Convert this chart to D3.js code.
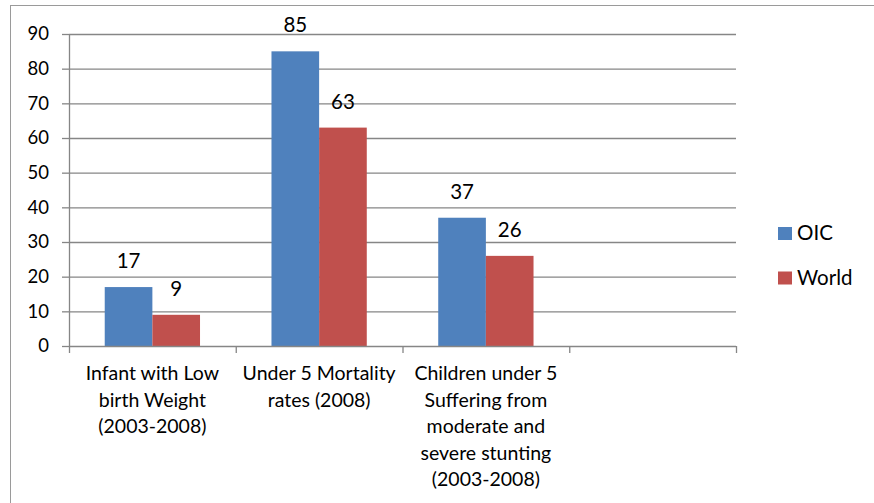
<!DOCTYPE html>
<html>
<head>
<meta charset="utf-8">
<script src="https://cdn.jsdelivr.net/npm/d3@7"></script>
<style>
  body { margin: 0; background: #fff; }
  text { font-family: Lato, "Liberation Sans", sans-serif; fill: #000; }
</style>
</head>
<body>
<script>
// chart values
const categories = ["Infant with Low birth Weight (2003-2008)",
                    "Under 5 Mortality rates (2008)",
                    "Children under 5 Suffering from moderate and severe stunting (2003-2008)",
                    ""];
const categoryLines = [["Infant with Low", "birth Weight", "(2003-2008)"],
                       ["Under 5 Mortality", "rates (2008)"],
                       ["Children under 5", "Suffering from", "moderate and", "severe stunting", "(2003-2008)"],
                       []];
const seriesNames = ["OIC", "World"];
const oicValues = [17, 85, 37];
const worldValues = [9, 63, 26];
const yTicks = [0, 10, 20, 30, 40, 50, 60, 70, 80, 90];
const colors = ["#4F81BD", "#C0504D"];

let margin = null,
    width = null,
    height = null;

let svg = null, root = null;
let x, y = null; // scales

setupCanvasSize();
appendSvg("body");
setupXScale();
setupYScale();
appendGrid();
appendChartBars();
appendYAxis();
appendXAxis();
appendLegend();

function setupCanvasSize() {
  margin = {top: 34, left: 69, bottom: 157, right: 138};
  width = 874 - margin.left - margin.right;
  height = 503 - margin.top - margin.bottom;
}

function appendSvg(domElement) {
  root = d3.select(domElement).append("svg")
    .attr("width", 874)
    .attr("height", 503);

  // chart frame (right and bottom edges run off the page)
  root.append("rect")
    .attr("x", 10.5).attr("y", 5.5)
    .attr("width", 900).attr("height", 540)
    .attr("fill", "none")
    .attr("stroke", "#9a9a9a");

  svg = root.append("g")
    .attr("transform", `translate(${margin.left}, ${margin.top})`);
}

function setupXScale() {
  x = d3.scaleBand().range([0, width]).domain(categories).padding(0);
}

function setupYScale() {
  y = d3.scaleLinear().range([height, 0]).domain([0, 90]);
}

function appendGrid() {
  svg.append("g")
    .call(d3.axisLeft(y).tickValues(yTicks.slice(1)).tickSize(-width).tickFormat(""))
    .call(g => g.select(".domain").remove())
    .selectAll("line")
    .attr("stroke", "#868686")
    .attr("stroke-width", 1.3);
}

function appendYAxis() {
  const g = svg.append("g")
    .call(d3.axisLeft(y).tickValues(yTicks).tickSize(7).tickPadding(13));
  g.select(".domain").attr("stroke", "#868686").attr("stroke-width", 1.3)
    .attr("d", `M0.5,${height}V0`);
  g.selectAll("line").attr("stroke", "#868686").attr("stroke-width", 1.3);
  g.selectAll("text")
    .style("font-family", "Lato, 'Liberation Sans', sans-serif")
    .style("font-size", "18.5px")
    .attr("fill", "#000");
}

function appendXAxis() {
  const g = svg.append("g").attr("transform", `translate(0,${height})`);

  g.append("line")
    .attr("x1", 0).attr("x2", width)
    .attr("y1", 0.5).attr("y2", 0.5)
    .attr("stroke", "#868686").attr("stroke-width", 1.3);

  // tick marks at band boundaries
  const bounds = categories.map(c => x(c)).concat([x(categories[categories.length - 1]) + x.bandwidth()]);
  g.selectAll(".btick").data(bounds).enter().append("line")
    .attr("x1", d => d + 0.5).attr("x2", d => d + 0.5)
    .attr("y1", 0).attr("y2", 7)
    .attr("stroke", "#868686").attr("stroke-width", 1.3);

  // multi-line category labels
  const labels = g.selectAll(".clabel").data(categories).enter().append("text")
    .attr("text-anchor", "middle")
    .style("font-size", "19.5px")
    .attr("transform", d => `translate(${x(d) + x.bandwidth() / 2},0)`);

  labels.selectAll("tspan")
    .data((d, i) => categoryLines[i])
    .enter().append("tspan")
    .attr("x", 0)
    .attr("y", (d, i) => 34 + i * 26.6)
    .text(d => d);
}

function appendChartBars() {
  const barW = x.bandwidth() / 3.5;
  const series = [oicValues, worldValues];

  series.forEach((vals, s) => {
    const g = svg.append("g");
    g.selectAll("rect")
      .data(vals)
      .enter().append("rect")
      .attr("x", (d, i) => x(categories[i]) + x.bandwidth() / 2 - barW + s * barW)
      .attr("y", d => y(d))
      .attr("width", barW)
      .attr("height", d => height - y(d))
      .style("fill", colors[s]);

    g.selectAll("text")
      .data(vals)
      .enter().append("text")
      .attr("text-anchor", "middle")
      .attr("x", (d, i) => x(categories[i]) + x.bandwidth() / 2 - barW / 2 + s * barW)
      .attr("y", d => y(d) - 19)
      .style("font-size", "20.5px")
      .text(d => d);
  });
}

function appendLegend() {
  const lg = root.append("g").attr("transform", "translate(778,227)");
  const items = lg.selectAll("g").data(seriesNames).enter().append("g")
    .attr("transform", (d, i) => `translate(0,${i * 44.5})`);
  items.append("rect")
    .attr("width", 14).attr("height", 13)
    .style("fill", (d, i) => colors[i]);
  items.append("text")
    .attr("x", 19).attr("y", 13)
    .style("font-size", "20.5px")
    .text(d => d);
}
</script>
</body>
</html>
